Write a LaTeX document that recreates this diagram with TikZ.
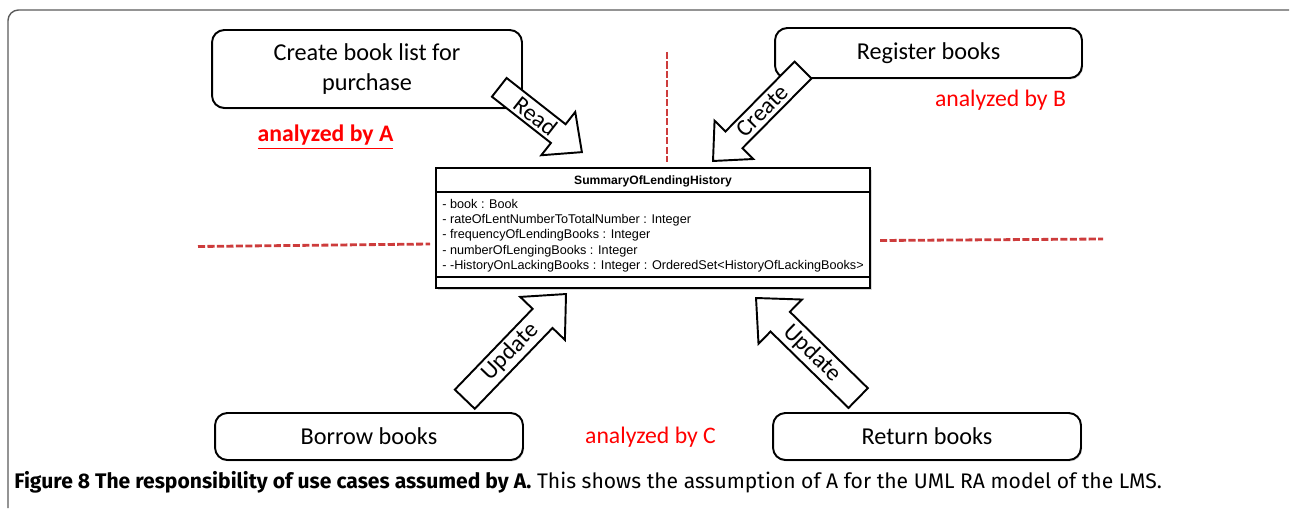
\documentclass[tikz,border=0pt]{standalone}
\usepackage{fontspec}
\setmainfont{Carlito}
\newfontfamily\umlfont{Liberation Sans}
\newfontfamily\capfont{Fira Sans}
\usetikzlibrary{shapes.arrows,shadows}
\definecolor{dashred}{RGB}{205,60,60}
\definecolor{framegray}{RGB}{90,90,90}

\begin{document}
\begin{tikzpicture}[x=0.02cm,y=0.02cm,
  usecase/.style={draw,line width=1.1pt,rounded corners=7pt,fill=white,align=center,
    font=\fontsize{13.8}{17}\selectfont,
    drop shadow={shadow xshift=0.6pt,shadow yshift=-0.8pt,fill=gray!70}},
  blockarrow/.style={single arrow,draw,line width=1.1pt,fill=white,inner sep=1pt,
    font=\fontsize{13.5}{15}\selectfont,single arrow tip angle=85,anchor=tip},
  divider/.style={dashred,line width=1.6pt,dash pattern=on 4pt off 1.4pt},
  analyst/.style={red,font=\fontsize{13.5}{16}\selectfont}]
  \useasboundingbox (0,0) rectangle (1293,508);
  % frame of the figure
  \draw[framegray,line width=0.8pt,rounded corners=6pt] (8,0) -- (8,498) -- (1289,498);

  % separating lines between the analysts
  \draw[divider] (667,456) -- (667,346);
  \draw[divider] (198,261.5) -- (430,264);
  \draw[divider] (880,267.5) -- (1103,269);

  % use cases
  \node[usecase,minimum width=6.2cm,minimum height=1.56cm] (purchase) at (367,439) {Create book list for\\purchase};
  \node[usecase,minimum width=6.14cm,minimum height=1cm] (register) at (928.5,455) {Register books};
  \node[usecase,minimum width=6.16cm,minimum height=0.94cm] (borrow) at (369,71.5) {Borrow books};
  \node[usecase,minimum width=6.16cm,minimum height=0.94cm] (return) at (927,71.5) {Return books};

  % class
  \node[draw,line width=1.1pt,fill=white,minimum width=8.68cm,minimum height=2.4cm,
    drop shadow={shadow xshift=1pt,shadow yshift=-1pt,fill=gray!60}] (summary) at (653,280) {};
  \draw[line width=0.8pt] (436,316) -- (870,316);
  \draw[line width=0.8pt] (436,231) -- (870,231);
  \node[font=\umlfont\bfseries\fontsize{6.9}{8}\selectfont] (title) at (653,327) {SummaryOfLendingHistory};
  \node[anchor=west,align=left,inner sep=0pt,font=\umlfont\fontsize{7.2}{8.7}\selectfont] (attrs) at (442,272.5)
    {- book : Book\\
     - rateOfLentNumberToTotalNumber : Integer\\
     - frequencyOfLendingBooks : Integer\\
     - numberOfLengingBooks : Integer\\
     - -HistoryOnLackingBooks : Integer : OrderedSet<HistoryOfLackingBooks>};

  % block arrows
  \node[blockarrow,rotate=-38.1,minimum height=2.1cm,minimum width=1.1cm,
    single arrow head extend=0.29cm] (read) at (583,355) {Read};
  \node[blockarrow,shape border rotate=180,rotate=45.3,minimum height=2.56cm,minimum width=1.09cm,
    single arrow head extend=0.27cm] (create) at (712,346) {Create};
  \node[blockarrow,rotate=46.1,minimum height=2.92cm,minimum width=1.24cm,
    single arrow head extend=0.32cm] (update1) at (567,215) {Update};
  \node[blockarrow,shape border rotate=180,rotate=-44.4,minimum height=2.86cm,minimum width=1.24cm,
    single arrow head extend=0.32cm] (update2) at (755,211) {Update};

  % analysts
  \node[analyst,font=\bfseries\fontsize{13.5}{16}\selectfont] (anA) at (325.5,371) {\underline{analyzed by A}};
  \node[analyst] (anB) at (1000.5,408) {analyzed by B};
  \node[analyst] (anC) at (650.5,71) {analyzed by C};

  % caption
  \node[anchor=west,inner sep=0pt,font=\capfont\fontsize{12}{14}\selectfont] (caption) at (14,26)
    {\textbf{Figure 8 The responsibility of use cases assumed by A.} This shows the assumption of A for the UML RA model of the LMS.};
\end{tikzpicture}
\end{document}
